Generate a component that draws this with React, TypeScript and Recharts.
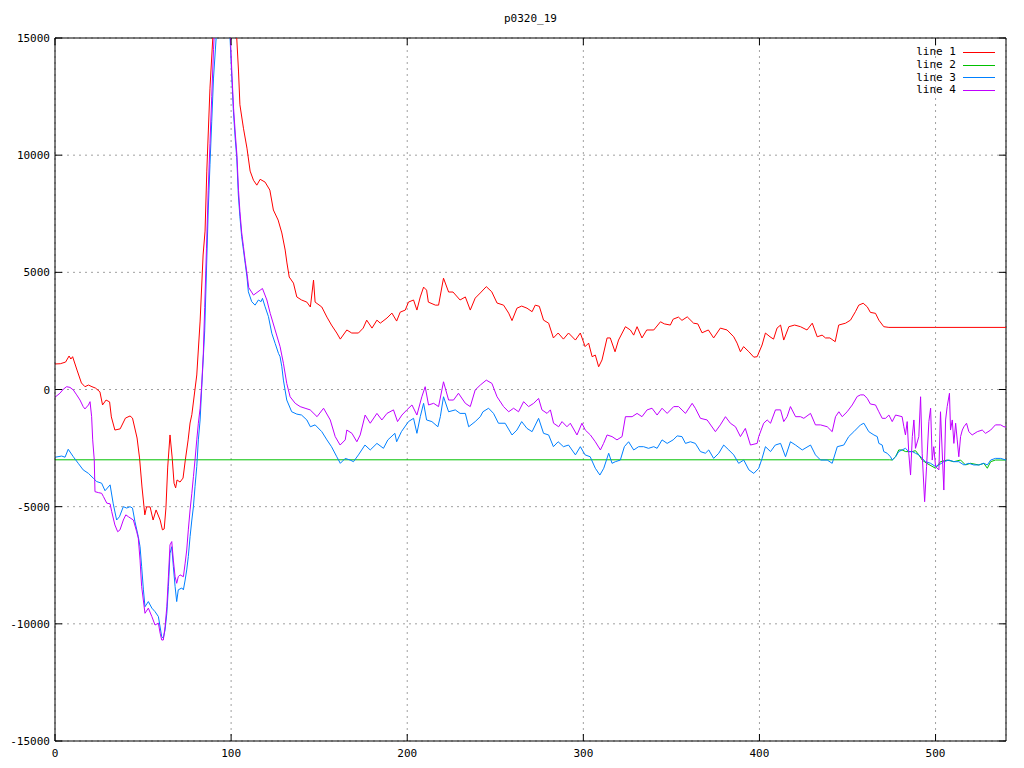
import React from 'react';
import { LineChart, Line, XAxis, YAxis, CartesianGrid, ReferenceLine } from 'recharts';

// plot frame in page pixels (gnuplot png 1024x768)
const W = 1024;
const H = 768;
const PLOT = { left: 55, right: 1006, top: 38, bottom: 741 };

const TITLE = 'p0320_19';
const X_TICKS = [0, 100, 200, 300, 400, 500];
const Y_TICKS = [-15000, -10000, -5000, 0, 5000, 10000, 15000];
const SERIES_NAMES = ['line 1', 'line 2', 'line 3', 'line 4'];
const COLORS = ['#ff0000', '#00c000', '#0080ff', '#c000ff'];

// [x, value] pairs
const line1: [number, number][] = [
  [0, 1090], [3, 1100], [6, 1170], [8, 1430], [9, 1300], [10, 1400], [12.5, 830], [15, 280], [17, 120],
  [19, 190], [21, 120], [23, 60], [25.5, -100], [27, -660], [29, -450], [31, -530], [32, -1170], [34, -1730],
  [37, -1680], [40, -1220], [42.6, -1130], [44, -1220], [46.6, -2070], [48, -2920], [49.4, -4160],
  [51, -5350], [52, -5010], [54, -5010], [55.7, -5570], [57.4, -5140], [59.7, -5570], [61, -5990],
  [62, -5950], [63, -5050], [64, -3310], [65.3, -1940], [66.5, -2880], [67.6, -4000], [68.5, -4200],
  [69.3, -3860], [71, -3950], [72.7, -3780], [74, -3010], [75.6, -2150], [76.7, -1430], [77.7, -1075],
  [80.5, 620], [82.4, 2920], [84.1, 5740], [85.2, 6760], [86.2, 9320], [88, 12860], [89.6, 15000],
  [92, 18500], [95, 21000], [98, 20500], [101, 17500], [103.2, 15000], [104.2, 13590], [105, 12150],
  [107, 11150], [109, 10300], [110.8, 9320], [112.7, 8930], [114.6, 8720], [116.5, 8970], [119.3, 8850],
  [122, 8510], [124, 7660], [126.7, 7230], [128.8, 6680], [130.7, 5950], [131.7, 5400], [133, 4800],
  [135.4, 4540], [137.3, 3950], [140, 3820], [143, 3730], [145, 3520], [146.8, 4670], [147.7, 3730],
  [151.5, 3520], [154.4, 3090], [157, 2750], [160, 2410], [162, 2150], [165.7, 2540], [168.5, 2410],
  [172.3, 2410], [175, 2620], [177, 2960], [180, 2620], [182.8, 2960], [184.7, 2830], [188.5, 3050],
  [191.3, 3260], [194, 2920], [196, 3300], [198.9, 3390], [200.7, 3730], [203.6, 3820], [205.5, 3390],
  [207.4, 3950], [209.3, 4370], [211, 4240], [212, 3730], [216, 3600], [217.8, 3600], [220.6, 4750],
  [223.5, 4160], [226, 4160], [230, 3820], [233, 3950], [235.8, 3390], [238.6, 3900], [241.5, 4120],
  [244.9, 4390], [248, 4170], [251, 3690], [254.7, 3600], [257.6, 3260], [259.5, 2940], [262.3, 3470],
  [265, 3560], [268, 3470], [270.9, 3320], [272.7, 3600], [275, 3550], [277.4, 2960], [280.3, 2830],
  [283, 2200], [285.7, 2410], [288.7, 2150], [291.6, 2410], [295.5, 2110], [298.3, 2410], [301, 1830],
  [303, 1980], [305, 1400], [306.8, 1470], [308.7, 970], [310.6, 1260], [313.5, 2200], [315.3, 2200],
  [318, 1610], [320, 2110], [323.9, 2680], [326.7, 2540], [328.6, 2320], [330.5, 2680], [333.3, 2200],
  [336, 2540], [340, 2540], [343.8, 2890], [346, 2800], [349.4, 2750], [351, 3000], [354, 3090],
  [356, 2950], [359, 3100], [362.6, 2830], [365, 2800], [367.4, 2420], [371, 2540], [374, 2200],
  [377.8, 2620], [381.6, 2540], [385.4, 2250], [387.3, 1980], [389.2, 1610], [391, 1830], [394, 1610],
  [396.8, 1380], [398.7, 1400], [401.5, 1900], [403.4, 2410], [406, 2250], [408, 2150], [410, 2620],
  [412, 2750], [413.8, 2110], [416.7, 2680], [420, 2750], [423.3, 2680], [427, 2540], [430, 2830],
  [432.8, 2250], [435.6, 2320], [437.5, 2200], [440, 2200], [443, 2040], [445, 2750], [448.9, 2830],
  [451.7, 2960], [454.5, 3320], [456.4, 3600], [458.9, 3680], [461.2, 3530], [463, 3290], [465.9, 3250],
  [467.8, 2960], [470.6, 2680], [473.5, 2650], [500, 2650], [540, 2650],
];

const line2: [number, number][] = [
  [0, -3000], [474, -3000], [475.4, -3010], [477.3, -2870], [479.1, -2580], [481, -2580], [483, -2650],
  [486.7, -2650], [488.6, -2610], [490.5, -2790], [492.4, -3010], [495, -3150], [500, -3360],
  [502.8, -3080], [506.6, -3010], [510.4, -3080], [514.2, -3010], [517, -3220], [519.8, -3150],
  [524.6, -3220], [527.4, -3150], [529.4, -3360], [531.3, -3080], [534, -3010], [540, -3010],
];

const line3: [number, number][] = [
  [0, -2890], [3.8, -2840], [5.7, -2890], [7.5, -2550], [10.4, -2870], [13.2, -3150], [16, -3430],
  [19, -3580], [21.8, -3790], [23.7, -3930], [26.5, -4000], [28.4, -4320], [31.3, -4070], [33, -4850],
  [35, -5570], [36.6, -5430], [38.8, -5000], [40.7, -5060], [42.6, -5000], [44, -5060], [45.4, -5640],
  [47.3, -6280], [48.3, -6710], [49.2, -7560], [50.2, -8550], [51.1, -9270], [53, -9050], [55, -9330],
  [56.8, -9480], [58.7, -9690], [60.6, -10550], [61.5, -10610], [62.5, -10260], [63.5, -9550],
  [64.4, -8410], [65.3, -6990], [66.3, -6710], [67.2, -7560], [68.2, -8410], [69.1, -9050], [70, -8550],
  [72, -8470], [72.9, -8550], [73.9, -8130], [74.8, -7700], [75.7, -7130], [76.7, -6280], [77.7, -5570],
  [78.6, -5000], [79.5, -4150], [80.5, -3290], [81.4, -2150], [82.4, -1300], [83.3, 60], [85, 2500],
  [86, 5060], [87, 7620], [88, 9590], [89, 11450], [90, 13290], [91.5, 15000], [94, 18500], [96, 19500],
  [98, 17500], [99.4, 15000], [100.4, 13290], [101.3, 11880], [102.3, 10730], [103.2, 9900],
  [104.1, 8300], [105, 7370], [106, 6520], [107, 5950], [108, 5380], [109, 4810], [109.8, 4170],
  [111.7, 3750], [113.6, 3600], [115.5, 3820], [117, 3750], [117.8, 3890], [119.3, 3530], [121.2, 3110],
  [123.1, 2400], [125, 1970], [126.9, 1540], [127.8, 1400], [128.8, 970], [129.7, 400], [131.6, -450],
  [134.4, -950], [137.3, -1050], [140, -1090], [143, -1300], [145, -1590], [147.7, -1510], [151.5, -1800],
  [154.4, -2150], [157, -2440], [160, -2870], [162, -3150], [164.8, -2940], [167.6, -3010], [169.5, -3080],
  [172.3, -2790], [176, -2370], [179, -2580], [182.8, -2300], [186.5, -2510], [189, -2150], [193, -1870],
  [194, -2230], [196.7, -1800], [200.7, -1370], [203.6, -1230], [205.5, -1870], [207.4, -1160],
  [209.3, -590], [211, -1300], [214, -1370], [217.4, -1590], [218.8, -1160], [220.6, -310], [223.5, -950],
  [227.3, -870], [230, -1020], [233, -1020], [234.9, -1590], [238.6, -1370], [241.5, -1160],
  [243, -950], [246.2, -800], [249, -1020], [251.8, -1440], [255.6, -1440], [259.5, -1940], [262.3, -1730],
  [265, -1370], [268, -1660], [270.9, -1800], [274.6, -1230], [277.4, -1870], [280.3, -1940],
  [283, -2440], [285.7, -2230], [288.7, -2440], [291.6, -2370], [295.5, -2790], [298.3, -2440],
  [301, -2790], [303.9, -2870], [306.8, -3360], [309.4, -3650], [311.6, -3360], [314.4, -2720],
  [316.3, -3150], [318.2, -3080], [321, -3010], [323.3, -2440], [325.7, -2230], [328.6, -2580],
  [331.4, -2440], [334.2, -2440], [337, -2510], [340, -2440], [341.9, -2510], [344.7, -2150],
  [347.6, -2300], [351, -2150], [353.3, -1980], [356, -2010], [358, -2300], [360.8, -2230], [363.6, -2300],
  [366.5, -2650], [369.3, -2720], [371.2, -2580], [374, -2940], [376.9, -2720], [379.7, -2370],
  [382.6, -2580], [385.4, -2790], [388.2, -3150], [391.1, -3010], [394, -3430], [396.8, -3580],
  [399.6, -3360], [401.5, -2940], [403.4, -2440], [406.3, -2650], [409, -2370], [412, -2300],
  [414.8, -2870], [417.6, -2230], [420.5, -2370], [424.3, -2580], [429, -2370], [431.8, -2790],
  [434.7, -3010], [438.5, -3010], [441.3, -3150], [444.2, -2440], [447.9, -2370], [450.7, -2010],
  [453.6, -1800], [457.4, -1510], [459.3, -1440], [462.1, -1800], [465, -1940], [466.9, -2010],
  [467.8, -2300], [469.7, -2370], [470.6, -2650], [472.5, -2720], [474.4, -2870], [475.4, -3010],
  [477.3, -2870], [479.1, -2650], [481, -2580], [482.9, -2510], [484.8, -2650], [486.8, -2650],
  [488.6, -2720], [490.5, -2790], [492.4, -2940], [494.3, -3080], [497.2, -3150], [500, -3290],
  [501.9, -3220], [504.7, -3080], [507.6, -3010], [510.4, -3080], [513.2, -3080], [516.1, -3220],
  [518.9, -3150], [521.7, -3220], [524.6, -3220], [527.4, -3150], [529.4, -3220], [531.3, -3010],
  [534, -2940], [537, -2940], [540, -3010],
];

const line4: [number, number][] = [
  [0, -330], [2.8, -160], [4.7, 10], [6.6, 120], [8.5, 90], [10.4, -20], [12.3, -230], [14.2, -450],
  [16, -730], [17, -830], [19, -660], [19.9, -520], [20.8, -1160], [21.4, -2150], [22.3, -3010],
  [22.7, -4360], [24.6, -4400], [26.5, -4430], [27.5, -4570], [29.4, -4850], [31.3, -4880], [32.2, -5210],
  [34, -5780], [35.6, -6070], [36.9, -5990], [38.8, -5570], [40.2, -5350], [41.7, -5430], [44.5, -5570],
  [46.4, -6070], [47.3, -6350], [48.3, -7280], [49.2, -8410], [51.1, -9550], [53, -9330], [55, -9690],
  [56.8, -10050], [58.7, -9970], [59.7, -10400], [60.6, -10690], [61.5, -10690], [62.5, -10120],
  [63.5, -9270], [64.4, -7990], [65.3, -6630], [66.3, -6490], [67.2, -7280], [68.2, -7990], [69.1, -8270],
  [70, -7990], [71, -7910], [72.9, -7990], [73.9, -7410], [74.8, -6850], [75.7, -5990], [76.7, -5140],
  [77.7, -4430], [78.6, -3720], [79.5, -3010], [80.5, -2150], [81.4, -1440], [82.4, -800], [83.3, 200],
  [84.2, 1500], [85, 3500], [86, 6000], [87, 8500], [88, 10500], [89, 12500], [90, 14500], [91, 16000],
  [94, 19000], [96, 20000], [98, 18000], [99.6, 15000], [100.5, 13400], [101.4, 12000], [102.4, 10900],
  [103.3, 10000], [104.2, 8500], [105, 7600], [106, 6700], [107, 6100], [108, 5500], [109, 4950],
  [110, 4350], [112.7, 4030], [116.5, 4240], [117.8, 4310], [120.3, 3820], [122.2, 3250], [125, 2540],
  [127.8, 1830], [129.7, 1120], [131.6, 260], [133.5, -310], [136.4, -590], [139.2, -730], [142, -800],
  [144.9, -870], [148.8, -1160], [152.5, -800], [156.3, -1300], [159.1, -2010], [161.9, -2370],
  [164.8, -2150], [165.7, -1730], [168.6, -1870], [171.4, -2230], [173.3, -1940], [176.1, -1090],
  [179, -1440], [182.8, -1020], [185.6, -1300], [188.5, -1020], [192.2, -870], [194.5, -1370],
  [197, -1090], [199.8, -870], [202.7, -660], [205.5, -1090], [208.3, -310], [210.2, 120], [212.1, -660],
  [215, -590], [217.8, -730], [220.6, 330], [223.5, -450], [226.3, -450], [229.1, -160], [233, -590],
  [235.8, -730], [238.6, -20], [241.5, 190], [244.9, 400], [248.1, 260], [251, -310], [254.7, -730],
  [257.6, -950], [260.4, -800], [263.2, -950], [266.1, -520], [268.9, -730], [271.8, -590], [274.6, -380],
  [276.5, -870], [279.4, -1020], [281.3, -870], [283.1, -1440], [286, -1590], [287.9, -1370],
  [290.7, -1590], [292.6, -1440], [296.4, -1940], [299.2, -1440], [301.1, -1730], [304, -1940],
  [306.8, -2230], [309.7, -2580], [311.5, -2300], [313.5, -1940], [316.3, -2010], [319.1, -2150],
  [322, -2010], [323.9, -1160], [327.7, -1160], [330.5, -1020], [333.3, -1160], [336.2, -870],
  [339, -800], [341.9, -1090], [344.7, -800], [347.6, -1020], [351.3, -730], [354.1, -730], [358, -1020],
  [361.8, -590], [363.6, -800], [366.5, -1230], [370.3, -1300], [375, -1800], [377.8, -1510],
  [380.7, -1160], [383.5, -1440], [386.4, -1590], [389.2, -2010], [392, -1660], [394.9, -2370],
  [398.7, -2300], [399.6, -2010], [402.4, -1440], [404.4, -1300], [406.3, -1440], [409.1, -870],
  [412, -870], [413.8, -1370], [415.7, -1160], [417.6, -730], [420.5, -1160], [423.3, -1160],
  [425.2, -1230], [429, -1020], [431.8, -1510], [434.7, -1510], [438.5, -1590], [441.3, -1800],
  [443.2, -1160], [445.1, -950], [447, -1160], [449.8, -950], [452.7, -660], [455.5, -300], [457.4, -230],
  [459.3, -230], [461.2, -380], [463, -620], [465.9, -660], [467.8, -950], [469.7, -1230], [471.6, -1230],
  [473.5, -1090], [475.4, -1370], [477.3, -1090], [481, -1160], [482, -1590], [482.9, -1940],
  [483.9, -1370], [484.8, -2720], [485.8, -3650], [486.8, -2010], [487.7, -1300], [488.6, -2510],
  [490.5, -2010], [491.5, -310], [492.4, -2720], [493.8, -4790], [494.9, -3290], [496.2, -1370],
  [497.2, -800], [498.1, -3010], [499, -2440], [500, -3290], [501.9, -3430], [502.8, -950], [504.7, -4290],
  [505.7, -1300], [506.6, -730], [507.9, -160], [508.5, -1730], [509.5, -1300], [510.4, -2300],
  [511.4, -1440], [512.3, -2150], [513.2, -2870], [514.2, -2010], [515.2, -1730], [516.1, -1590],
  [517.6, -1440], [518.9, -1800], [520.8, -1940], [523.7, -1800], [526.5, -1730], [528.4, -1870],
  [531.3, -1730], [534, -1510], [537, -1510], [538.8, -1590], [540, -1600],
];

const toPoints = (pairs: [number, number][]) => pairs.map(([x, y]) => ({ x, y }));
const SERIES = [line1, line2, line3, line4].map(toPoints);

const FONT = '"DejaVu Sans Mono", monospace';

function XTick(props: any) {
  const { x, payload } = props;
  return (
    <g>
      <line x1={x} x2={x} y1={PLOT.bottom} y2={PLOT.bottom - 7} stroke="#000" />
      <line x1={x} x2={x} y1={PLOT.top} y2={PLOT.top + 7} stroke="#000" />
      <text x={x} y={PLOT.bottom + 16} textAnchor="middle" fontSize={11} fontFamily={FONT} fill="#000">
        {payload.value}
      </text>
    </g>
  );
}

function YTick(props: any) {
  const { y, payload } = props;
  return (
    <g>
      <line x1={PLOT.left} x2={PLOT.left + 7} y1={y} y2={y} stroke="#000" />
      <line x1={PLOT.right} x2={PLOT.right - 7} y1={y} y2={y} stroke="#000" />
      <text x={PLOT.left - 5} y={y + 4} textAnchor="end" fontSize={11} fontFamily={FONT} fill="#000">
        {payload.value}
      </text>
    </g>
  );
}

function KeyBox() {
  return (
    <div
      style={{
        position: 'absolute',
        top: 46,
        left: 880,
        fontFamily: FONT,
        fontSize: 11,
        lineHeight: '12.8px',
      }}
    >
      {SERIES_NAMES.map((name, i) => (
        <div key={name} style={{ display: 'flex', alignItems: 'center', height: 12.8 }}>
          <span style={{ width: 76, textAlign: 'right' }}>{name}</span>
          <span style={{ width: 32, height: 0, borderTop: `1px solid ${COLORS[i]}`, marginLeft: 7 }} />
        </div>
      ))}
    </div>
  );
}

export default function App() {
  return (
    <div style={{ position: 'absolute', left: 0, top: 0, width: W, height: H, background: '#fff' }}>
      <div
        style={{
          position: 'absolute',
          top: 12,
          left: PLOT.left,
          width: PLOT.right - PLOT.left,
          textAlign: 'center',
          fontFamily: FONT,
          fontSize: 11,
        }}
      >
        {TITLE}
      </div>
      <LineChart
        width={W}
        height={H}
        margin={{ top: PLOT.top, right: W - PLOT.right, bottom: 0, left: 0 }}
      >
        <CartesianGrid stroke="#a0a0a0" strokeDasharray="2 4" />
        <XAxis
          type="number"
          dataKey="x"
          domain={[0, 540]}
          ticks={X_TICKS}
          allowDataOverflow
          height={H - PLOT.bottom}
          axisLine={{ stroke: '#000' }}
          tickLine={false}
          tick={<XTick />}
        />
        <YAxis
          type="number"
          dataKey="y"
          domain={[-15000, 15000]}
          ticks={Y_TICKS}
          allowDataOverflow
          width={PLOT.left}
          axisLine={{ stroke: '#000' }}
          tickLine={false}
          tick={<YTick />}
        />
        <ReferenceLine y={15000} stroke="#000" />
        <ReferenceLine x={540} stroke="#000" />
        {SERIES.map((data, i) => (
          <Line
            key={SERIES_NAMES[i]}
            data={data}
            dataKey="y"
            name={SERIES_NAMES[i]}
            type="linear"
            stroke={COLORS[i]}
            strokeWidth={1}
            dot={false}
            isAnimationActive={false}
          />
        ))}
      </LineChart>
      <KeyBox />
    </div>
  );
}
